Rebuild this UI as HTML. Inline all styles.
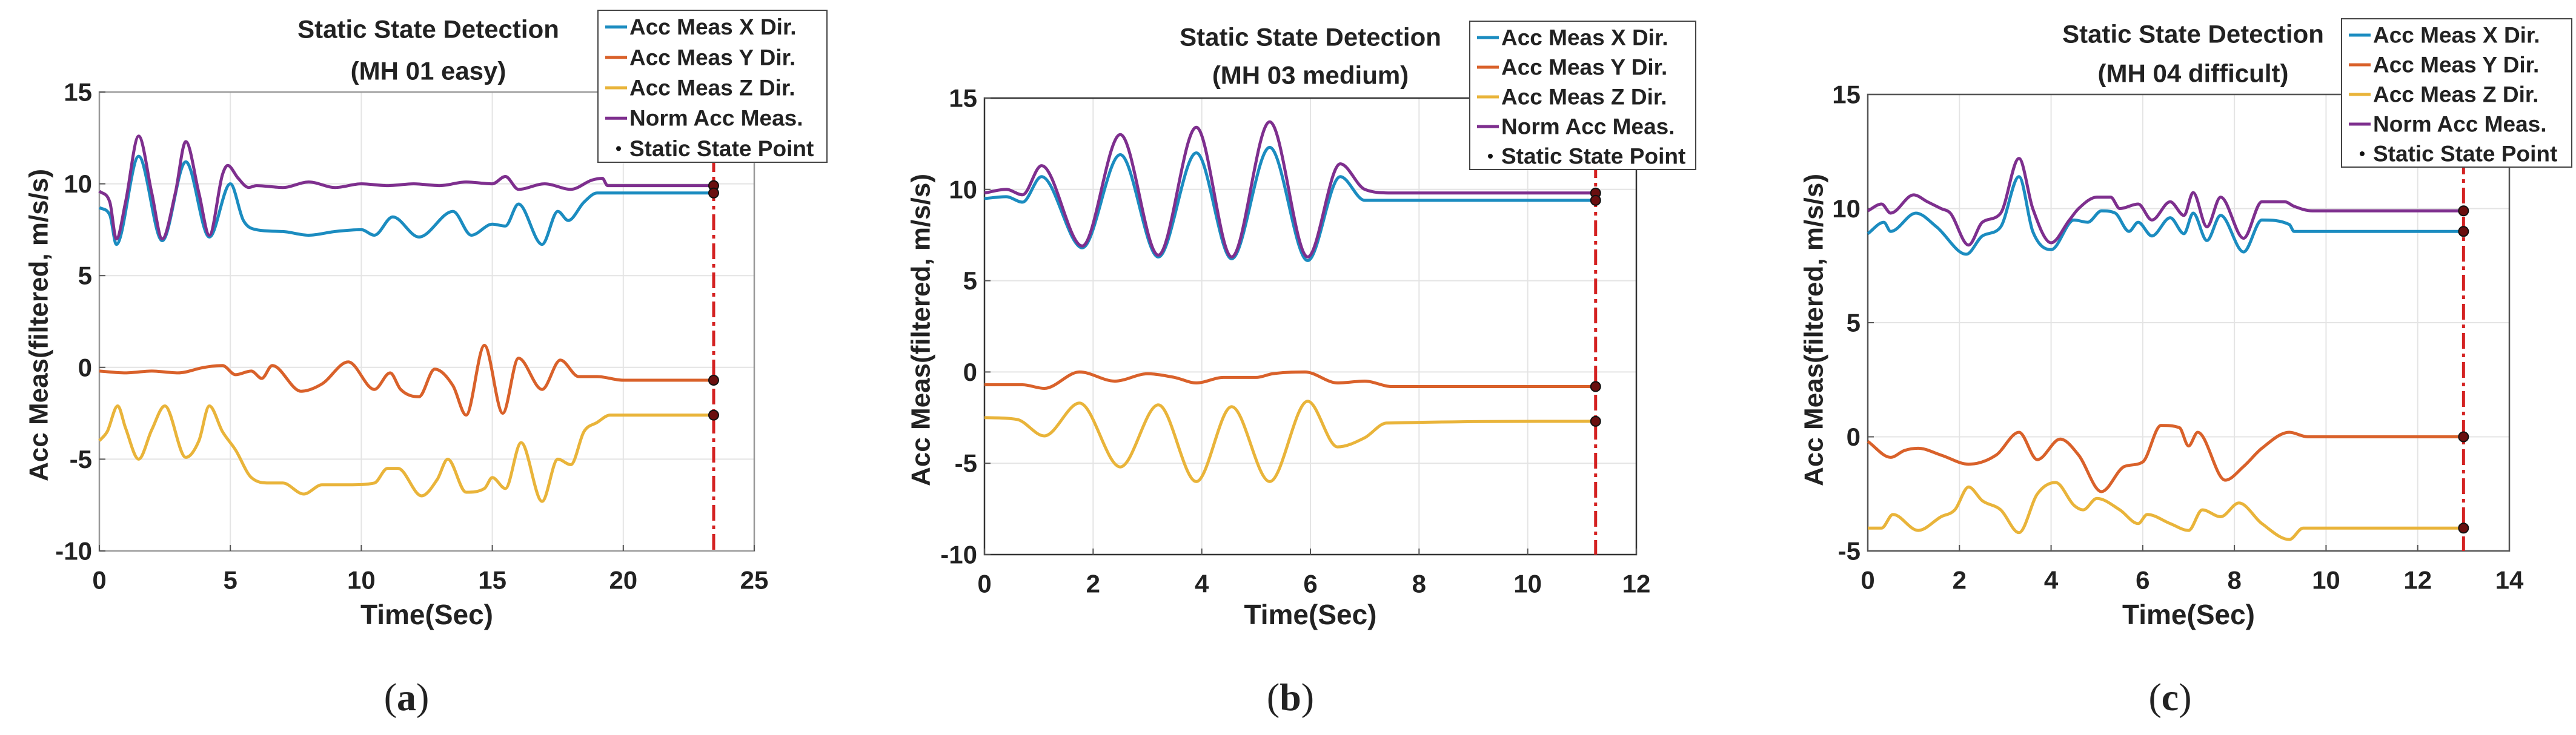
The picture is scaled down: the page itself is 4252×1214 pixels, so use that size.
<!DOCTYPE html>
<html><head><meta charset="utf-8"><style>
html,body{margin:0;padding:0;background:#fff;}
svg{display:block;}
text{font-family:"Liberation Sans",Arial,sans-serif;fill:#222;}
</style></head><body>
<svg id="fig" width="4252" height="1214" viewBox="0 0 4252 1214" xmlns="http://www.w3.org/2000/svg"></svg>
<script>
// ---------- Panel A data (MH 01 easy) ----------
const aNormT=[0,0.4,0.65,1.0,1.5,2.0,2.4,2.9,3.3,3.8,4.2,4.7,4.9,5.3,5.7,6,7,8,9,10,11,12,13,14,15,15.5,16,17,18,18.8,19.2,19.4,23.45];
const aNormV=[9.6,9.0,7.0,9.0,12.6,9.5,7.0,9.5,12.3,9.5,7.2,10.5,11.0,10.3,9.8,9.9,9.8,10.1,9.8,10.0,9.9,10.0,9.9,10.1,10.0,10.4,9.7,10.0,9.7,10.2,10.3,9.9,9.9];
const aXT=[0,0.4,0.65,1.5,2.4,3.3,4.2,5.0,5.5,6,7,8,9,10,10.5,11.2,12.2,13.5,14.2,15,15.5,16,16.9,17.5,17.9,18.5,19,23.45];
const aXV=[8.7,8.3,6.7,11.5,6.9,11.2,7.1,10.0,8.0,7.5,7.4,7.2,7.4,7.5,7.2,8.2,7.1,8.5,7.2,7.8,7.7,8.9,6.7,8.5,8.0,9.0,9.5,9.5];
const aYT=[0,1,2,3,4,4.7,5.2,5.8,6.2,6.6,7.7,8.5,9.5,10.5,11.1,11.5,12.2,12.8,13.5,14.0,14.7,15.4,16.0,16.9,17.6,18.3,19,20,23.45];
const aYV=[-0.2,-0.3,-0.2,-0.3,0,0.1,-0.4,-0.2,-0.6,0.1,-1.3,-0.9,0.3,-1.2,-0.3,-1.2,-1.6,-0.1,-1.0,-2.6,1.2,-2.5,0.5,-1.2,0.4,-0.5,-0.5,-0.7,-0.7];
const aZT=[0,0.3,0.7,1.0,1.5,2.0,2.5,3.3,3.8,4.2,4.7,5.2,5.8,6.5,7.0,7.8,8.5,9.5,10.5,11.0,11.4,12.3,12.9,13.3,14.0,14.7,15.0,15.5,16.1,16.9,17.5,18.0,18.5,19,19.5,23.45];
const aZV=[-4.0,-3.5,-2.1,-3.3,-5.0,-3.4,-2.1,-4.9,-4.0,-2.1,-3.5,-4.5,-6.0,-6.3,-6.3,-6.9,-6.4,-6.4,-6.3,-5.5,-5.5,-7.0,-6.1,-5.0,-6.8,-6.6,-6.0,-6.6,-4.1,-7.3,-5.0,-5.3,-3.5,-3.0,-2.6,-2.6];
const aXTicks=[0,5,10,15,20,25];
const aYTicks=[-10,-5,0,5,10,15];
const aStatic=[23.45];

// ---------- Panel B data (MH 03 medium) ----------
const bNormT=[0,0.4,0.7,1.05,1.8,2.5,3.2,3.9,4.55,5.25,5.95,6.55,7.0,7.5,11.25];
const bNormV=[9.8,10.0,9.7,11.3,6.9,13.0,6.4,13.4,6.3,13.7,6.3,11.4,10.0,9.8,9.8];
const bXT=[0,0.4,0.7,1.05,1.8,2.5,3.2,3.9,4.55,5.25,5.95,6.55,7.0,7.5,11.25];
const bXV=[9.5,9.6,9.3,10.7,6.8,11.9,6.3,12.0,6.2,12.3,6.1,10.7,9.4,9.4,9.4];
const bYT=[0,0.7,1.1,1.75,2.4,3.0,3.5,3.9,4.4,5.0,5.3,5.9,6.5,7.0,7.5,11.25];
const bYV=[-0.7,-0.7,-0.9,0,-0.5,-0.1,-0.3,-0.6,-0.3,-0.3,-0.1,0,-0.6,-0.5,-0.8,-0.8];
const bZT=[0,0.6,1.1,1.75,2.5,3.2,3.9,4.55,5.25,5.95,6.5,7.0,7.4,11.25];
const bZV=[-2.5,-2.6,-3.5,-1.7,-5.2,-1.8,-6.0,-1.9,-6.0,-1.6,-4.1,-3.6,-2.8,-2.7];
const bXTicks=[0,2,4,6,8,10,12];
const bYTicks=[-10,-5,0,5,10,15];
const bStatic=[11.25];

// ---------- Panel C data (MH 04 difficult) ----------
const cNormT=[0,0.3,0.5,1.0,1.3,1.6,1.8,2.2,2.5,2.9,3.3,3.6,4.0,4.4,4.6,5.0,5.3,5.5,5.9,6.2,6.6,6.9,7.1,7.4,7.7,8.2,8.6,9.1,9.3,9.7,13];
const cNormV=[9.9,10.2,9.8,10.6,10.3,10.0,9.8,8.4,9.4,9.8,12.2,10.0,8.5,9.5,10.0,10.5,10.5,10.0,10.2,9.5,10.3,9.7,10.7,9.2,10.5,8.7,10.3,10.3,10.1,9.9,9.9];
const cXT=[0,0.35,0.5,1.05,1.5,2.15,2.5,2.9,3.3,3.6,4.0,4.5,4.8,5.1,5.4,5.7,5.9,6.2,6.6,6.9,7.1,7.4,7.7,8.2,8.6,9.2,9.3,13];
const cXV=[8.9,9.4,9.0,9.8,9.2,8.0,8.8,9.2,11.4,9.0,8.2,9.5,9.4,9.9,9.8,9.0,9.4,8.8,9.6,8.9,9.8,8.6,9.7,8.1,9.5,9.3,9.0,9.0];
const cYT=[0,0.5,0.8,1.1,1.6,2.2,2.8,3.3,3.7,4.2,4.6,5.1,5.6,6.0,6.4,6.8,7.0,7.2,7.8,8.2,8.6,9.2,9.6,13];
const cYV=[-0.2,-0.9,-0.6,-0.5,-0.8,-1.2,-0.8,0.2,-1.0,-0.1,-0.8,-2.4,-1.3,-1.1,0.5,0.4,-0.4,0.2,-1.9,-1.3,-0.5,0.2,0,0];
const cZT=[0,0.3,0.55,1.1,1.6,1.9,2.2,2.5,2.9,3.3,3.7,4.1,4.5,4.7,5.0,5.5,5.9,6.1,6.6,7.0,7.3,7.7,8.1,8.6,9.2,9.5,13];
const cZV=[-4.0,-4.0,-3.4,-4.1,-3.5,-3.2,-2.2,-2.8,-3.2,-4.2,-2.5,-2.0,-3.0,-3.2,-2.7,-3.2,-3.8,-3.4,-3.8,-4.1,-3.2,-3.5,-2.9,-3.8,-4.5,-4.0,-4.0];
const cXTicks=[0,2,4,6,8,10,12,14];
const cYTicks=[-5,0,5,10,15];
const cStatic=[13];

const COL={x:'#1b8cc0',y:'#d9612a',z:'#e9b43a',n:'#7e2f8e'};
const NS='http://www.w3.org/2000/svg';
const svg=document.getElementById('fig');
function el(tag,attrs,parent){const e=document.createElementNS(NS,tag);for(const k in attrs)e.setAttribute(k,attrs[k]);(parent||svg).appendChild(e);return e;}
function txt(s,x,y,size,parent,anchor,weight,extra){const t=el('text',Object.assign({x:x,y:y,'font-size':size,'text-anchor':anchor||'middle','font-weight':weight||'bold','dominant-baseline':'central'},extra||{}),parent);t.textContent=s;return t;}
// monotone cubic (Fritsch-Carlson) path
function smoothPath(P){
  const n=P.length;
  const d=[],m=new Array(n).fill(0);
  for(let i=0;i<n-1;i++){const dx=P[i+1][0]-P[i][0];d.push(dx?(P[i+1][1]-P[i][1])/dx:0);}
  m[0]=d[0];m[n-1]=d[n-2];
  for(let i=1;i<n-1;i++){m[i]=(d[i-1]*d[i]<=0)?0:(d[i-1]+d[i])/2;}
  for(let i=0;i<n-1;i++){
    if(d[i]===0){m[i]=0;m[i+1]=0;continue;}
    const a=m[i]/d[i],b=m[i+1]/d[i],s=a*a+b*b;
    if(s>9){const t=3/Math.sqrt(s);m[i]=t*a*d[i];m[i+1]=t*b*d[i];}
  }
  let p='M'+P[0][0].toFixed(1)+','+P[0][1].toFixed(1);
  for(let i=0;i<n-1;i++){
    const h=(P[i+1][0]-P[i][0])/3;
    p+=' C'+(P[i][0]+h).toFixed(1)+','+(P[i][1]+m[i]*h).toFixed(1)+' '+(P[i+1][0]-h).toFixed(1)+','+(P[i+1][1]-m[i+1]*h).toFixed(1)+' '+P[i+1][0].toFixed(1)+','+P[i+1][1].toFixed(1);
  }
  return p;
}

function panel(cfg){
  const g=el('g',{});
  
  
  const L=cfg.left,R=cfg.right,T=cfg.top,B=cfg.bottom;
  const sx=v=>L+(v-cfg.xmin)/(cfg.xmax-cfg.xmin)*(R-L);
  const sy=v=>B-(v-cfg.ymin)/(cfg.ymax-cfg.ymin)*(B-T);
  cfg.xt.forEach(v=>{const l=el('line',{x1:sx(v),x2:sx(v),y1:T,y2:B,stroke:'#e4e4e4','stroke-width':2},g);});
  cfg.yt.forEach(v=>{const l=el('line',{x1:L,x2:R,y1:sy(v),y2:sy(v),stroke:'#e4e4e4','stroke-width':2},g);});
  const box=el('rect',{x:L,y:T,width:R-L,height:B-T,fill:'none',stroke:cfg.boxColor,'stroke-width':2.5},g);
  
  
  cfg.xt.forEach(v=>{el('line',{x1:sx(v),x2:sx(v),y1:B,y2:B-10,stroke:'#555','stroke-width':2},g);const t=txt(String(v),sx(v),B+48,42,g);});
  cfg.yt.forEach(v=>{el('line',{x1:L,x2:L+10,y1:sy(v),y2:sy(v),stroke:'#555','stroke-width':2},g);const t=txt(String(v),L-12,sy(v),42,g,'end');});
  const series=[['n',cfg.nT,cfg.nV,'norm-series'],['x',cfg.xT,cfg.xV,'x-series'],['y',cfg.yT,cfg.yV,'y-series'],['z',cfg.zT,cfg.zV,'z-series']];
  const order=[series[1],series[0],series[2],series[3]];
  order.forEach(s=>{
    const P=s[1].map((t,i)=>[sx(t),sy(s[2][i])]);
    const p=el('path',{d:smoothPath(P),fill:'none',stroke:COL[s[0]],'stroke-width':5,'stroke-linejoin':'round'},g);
    
    
  });
  cfg.st.forEach(ts=>{
    const l=el('line',{x1:sx(ts),x2:sx(ts),y1:T+10,y2:B,stroke:'#d42222','stroke-width':5,'stroke-dasharray':'26,8,6,8'},g);
    
    
    series.forEach(s=>{
      const v=s[2][s[2].length-1];
      const c=el('circle',{cx:sx(ts),cy:sy(v),r:8,fill:'#6a0f0f',stroke:'#111','stroke-width':2},g);
      
      
    });
  });
  const t1=txt('Static State Detection',cfg.tx,cfg.ty1,42,g);
  
  
  const t2=txt(cfg.sub,cfg.tx,cfg.ty2,42,g);
  
  
  const xl=txt('Time(Sec)',(L+R)/2,cfg.xly,46,g);
  
  
  const yl=txt('Acc Meas(filtered, m/s/s)',0,0,44,g,'middle','bold',{transform:'translate('+cfg.ylx+','+cfg.yly+') rotate(-90)'});
  
  
  const lg=el('g',{},g);
  
  
  const lb=el('rect',{x:cfg.lgx,y:cfg.lgy,width:cfg.lgw,height:cfg.lgh,fill:'#fff',stroke:'#444','stroke-width':2},lg);
  
  
  const ents=[['x','Acc Meas X Dir.'],['y','Acc Meas Y Dir.'],['z','Acc Meas Z Dir.'],['n','Norm Acc Meas.'],['p','Static State Point']];
  const step=cfg.lgh/5;
  ents.forEach((e,i)=>{
    const cy=cfg.lgy+step*(i+0.55);
    if(e[0]==='p'){el('circle',{cx:cfg.lgx+34,cy:cy,r:4,fill:'#111'},lg);}
    else{el('line',{x1:cfg.lgx+12,x2:cfg.lgx+48,y1:cy,y2:cy,stroke:COL[e[0]],'stroke-width':5},lg);}
    const t=txt(e[1],cfg.lgx+52,cy,37,lg,'start','bold');
    
    
  });
  const cap=el('text',{x:cfg.capx,y:1151,'font-size':64,'text-anchor':'middle','dominant-baseline':'central',style:'font-family:"Liberation Serif",serif'},g);
  
  
  cap.innerHTML='(<tspan font-weight="bold">'+cfg.cap+'</tspan>)';
}

panel({name:'panel-a-mh01-easy',left:164,right:1245,top:152,bottom:910,xmin:0,xmax:25,ymin:-10,ymax:15,xt:aXTicks,yt:aYTicks,boxColor:'#999',
  nT:aNormT,nV:aNormV,xT:aXT,xV:aXV,yT:aYT,yV:aYV,zT:aZT,zV:aZV,st:aStatic,
  sub:'(MH 01 easy)',tx:707,ty1:48,ty2:117,xly:1015,ylx:64,yly:537,lgx:987,lgy:17,lgw:378,lgh:251,capx:671,cap:'a'});
panel({name:'panel-b-mh03-medium',left:1625,right:2701,top:162,bottom:916,xmin:0,xmax:12,ymin:-10,ymax:15,xt:bXTicks,yt:bYTicks,boxColor:'#333',
  nT:bNormT,nV:bNormV,xT:bXT,xV:bXV,yT:bYT,yV:bYV,zT:bZT,zV:bZV,st:bStatic,
  sub:'(MH 03 medium)',tx:2163,ty1:61,ty2:124,xly:1015,ylx:1520,yly:545,lgx:2426,lgy:35,lgw:373,lgh:245,capx:2130,cap:'b'});
panel({name:'panel-c-mh04-difficult',left:3083,right:4142,top:156,bottom:910,xmin:0,xmax:14,ymin:-5,ymax:15,xt:cXTicks,yt:cYTicks,boxColor:'#555',
  nT:cNormT,nV:cNormV,xT:cXT,xV:cXV,yT:cYT,yV:cYV,zT:cZT,zV:cZV,st:cStatic,
  sub:'(MH 04 difficult)',tx:3620,ty1:56,ty2:121,xly:1015,ylx:2994,yly:545,lgx:3865,lgy:31,lgw:380,lgh:245,capx:3582,cap:'c'});
</script>
</body></html>
